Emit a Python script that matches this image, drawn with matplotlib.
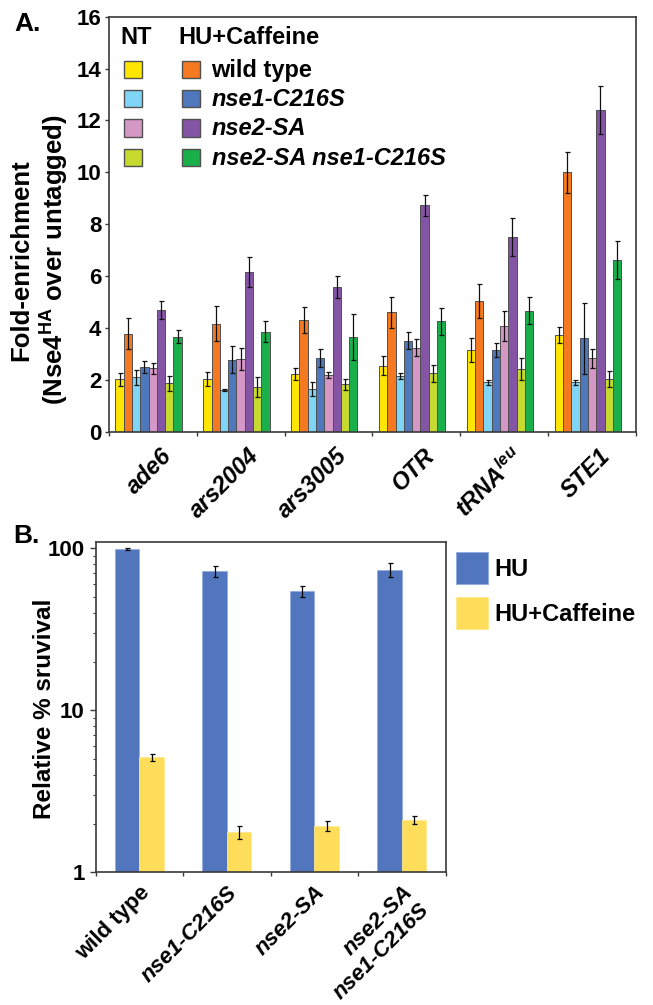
import numpy as np
import matplotlib
matplotlib.use("Agg")
import matplotlib.pyplot as plt
from matplotlib.patches import Rectangle
from matplotlib.transforms import ScaledTranslation
from matplotlib.ticker import LogLocator, NullFormatter, FixedLocator, FixedFormatter

plt.rcParams['font.family'] = ['Liberation Sans', 'DejaVu Sans']
plt.rcParams['font.weight'] = 'bold'
plt.rcParams['mathtext.fontset'] = 'custom'
plt.rcParams['mathtext.rm'] = 'Liberation Sans:bold'
plt.rcParams['mathtext.it'] = 'Liberation Sans:italic'
plt.rcParams['mathtext.bf'] = 'Liberation Sans:bold'

# ---------------- Panel A data ----------------
loci = ['ade6', 'ars2004', 'ars3005', 'OTR', r'tRNA$^{\mathit{leu}}$', 'STE1']
series_names = ['NT wild type', 'HU+Caffeine wild type',
                'NT nse1-C216S', 'HU+Caffeine nse1-C216S',
                'NT nse2-SA', 'HU+Caffeine nse2-SA',
                'NT nse2-SA nse1-C216S', 'HU+Caffeine nse2-SA nse1-C216S']
nt_wt       = [2.02, 2.02, 2.22, 2.54, 3.15, 3.73]
nt_wt_err   = [0.26, 0.27, 0.24, 0.37, 0.48, 0.31]
hu_wt       = [3.78, 4.16, 4.31, 4.60, 5.04, 10.00]
hu_wt_err   = [0.60, 0.67, 0.51, 0.60, 0.64, 0.80]
nt_nse1     = [2.10, 1.60, 1.66, 2.14, 1.90, 1.90]
nt_nse1_err = [0.29, 0.05, 0.27, 0.12, 0.10, 0.09]
hu_nse1     = [2.50, 2.78, 2.84, 3.50, 3.15, 3.60]
hu_nse1_err = [0.22, 0.52, 0.36, 0.33, 0.26, 1.38]
nt_nse2     = [2.44, 2.79, 2.18, 3.24, 4.09, 2.83]
nt_nse2_err = [0.22, 0.43, 0.11, 0.34, 0.58, 0.36]
hu_nse2     = [4.68, 6.14, 5.58, 8.73, 7.51, 12.41]
hu_nse2_err = [0.35, 0.58, 0.42, 0.40, 0.72, 0.93]
nt_dbl      = [1.87, 1.71, 1.83, 2.26, 2.41, 2.03]
nt_dbl_err  = [0.29, 0.38, 0.22, 0.33, 0.42, 0.32]
hu_dbl      = [3.67, 3.86, 3.65, 4.25, 4.67, 6.62]
hu_dbl_err  = [0.25, 0.41, 0.88, 0.53, 0.52, 0.73]

series_vals = [nt_wt, hu_wt, nt_nse1, hu_nse1, nt_nse2, hu_nse2, nt_dbl, hu_dbl]
series_errs = [nt_wt_err, hu_wt_err, nt_nse1_err, hu_nse1_err,
               nt_nse2_err, hu_nse2_err, nt_dbl_err, hu_dbl_err]
series_colors = ['#FFE600', '#F47920', '#80D4F6', '#4E77BC',
                 '#D597C5', '#8455A4', '#C6D92E', '#1BAF4B']

legend_headers = ['NT', 'HU+Caffeine']
legend_labels = ['wild type', 'nse1-C216S', 'nse2-SA', 'nse2-SA nse1-C216S']
legend_styles = ['normal', 'italic', 'italic', 'italic']

# ---------------- Panel B data ----------------
strains = ['wild type', 'nse1-C216S', 'nse2-SA', 'nse2-SA\nnse1-C216S']
strain_styles = ['normal', 'italic', 'italic', 'italic']
hu_surv      = [99.0, 72.1, 54.3, 73.8]
hu_surv_err  = [0.8, 5.5, 4.0, 7.6]
huc_surv     = [5.12, 1.77, 1.94, 2.11]
huc_surv_err = [0.25, 0.16, 0.13, 0.13]
b_names = ['HU', 'HU+Caffeine']
b_colors = ['#5176BD', '#FDDD59']

W, H = 653, 1005
fig = plt.figure(figsize=(W / 100, H / 100), dpi=100)

def fx(px):
    return px / W

def fy(py):
    return 1 - py / H

spine_col = '#3a3a3a'

# ================= Panel A =================
aL, aR, aT, aB = 108.8, 636.0, 16.7, 431.7
axA = fig.add_axes([fx(aL), fy(aB), fx(aR) - fx(aL), fy(aT) - fy(aB)])
ng = len(loci)
w = 0.0944
gx = np.arange(ng) + 0.5
for i, (vals, errs, col) in enumerate(zip(series_vals, series_errs, series_colors)):
    x = gx + (i - 4) * w
    axA.bar(x, vals, width=w, color=col, edgecolor='#505050', linewidth=0.7, zorder=2)
    axA.errorbar(x, vals, yerr=errs, fmt='none', ecolor='#111111',
                 elinewidth=0.9, capsize=1.8, capthick=0.9, zorder=3)
axA.set_xlim(0, ng)
axA.set_ylim(0, 16)
axA.set_yticks(np.arange(0, 17, 2))
axA.tick_params(axis='y', direction='out', length=3, width=1, pad=2.5,
                labelsize=16, colors=spine_col, labelcolor='black')
axA.set_xticks(gx)
axA.set_xticklabels(loci, rotation=45, ha='right', va='top',
                    rotation_mode='anchor', fontsize=17, fontstyle='italic')
axA.xaxis.set_minor_locator(FixedLocator(np.arange(0, ng + 1)))
axA.tick_params(axis='x', which='major', length=0, pad=9)
axA.tick_params(axis='x', which='minor', direction='out', length=3, width=1,
                color=spine_col)
for lbl in axA.get_xticklabels():
    lbl.set_transform(lbl.get_transform() + ScaledTranslation(7 / 100, 0, fig.dpi_scale_trans))
for s in axA.spines.values():
    s.set_color(spine_col)
    s.set_linewidth(1.2)

fig.text(fx(40), fy(260), 'Fold-enrichment\n(Nse4$^{\\mathrm{HA}}$ over untagged)',
         rotation=90, ha='center', va='center', fontsize=18.5,
         linespacing=1.2, multialignment='center')
fig.text(fx(14), fy(24), 'A.', fontsize=19, ha='left', va='center')

# legend A (drawn manually)
sq = 17.3
row_c = [69.3, 98.6, 127.9, 157.2]
fig.text(fx(120), fy(38), legend_headers[0], fontsize=17, ha='left', va='center')
fig.text(fx(178), fy(38), legend_headers[1], fontsize=17, ha='left', va='center')
for r, (lab, sty) in enumerate(zip(legend_labels, legend_styles)):
    for c, x0 in enumerate([124.3, 182.3]):
        col = series_colors[2 * r + c]
        fig.add_artist(Rectangle((fx(x0), fy(row_c[r] + sq / 2)), sq / W, sq / H,
                                 transform=fig.transFigure, facecolor=col,
                                 edgecolor='#505050', linewidth=1.0))
    fig.text(fx(211.5), fy(row_c[r] + 1), lab, fontsize=17, fontstyle=sty,
             ha='left', va='center')

# ================= Panel B =================
bL, bR, bT, bB = 95.7, 445.7, 542.3, 872.3
axB = fig.add_axes([fx(bL), fy(bB), fx(bR) - fx(bL), fy(bT) - fy(bB)])
ns = len(strains)
bw = 0.28
sx = np.arange(ns) + 0.5
for j, (vals, errs, col) in enumerate(zip([hu_surv, huc_surv], [hu_surv_err, huc_surv_err], b_colors)):
    x = sx + (j - 0.5) * bw
    axB.bar(x, vals, width=bw, color=col, edgecolor='#8FAAE0' if j == 0 else '#FFE88A',
            linewidth=0.5, zorder=2)
    axB.errorbar(x, vals, yerr=errs, fmt='none', ecolor='black',
                 elinewidth=0.9, capsize=1.8, capthick=0.9, zorder=3)
axB.set_yscale('log')
axB.set_ylim(1, 108.9)
axB.set_xlim(0, ns)
axB.yaxis.set_major_locator(FixedLocator([1, 10, 100]))
axB.yaxis.set_major_formatter(FixedFormatter(['1', '10', '100']))
axB.yaxis.set_minor_locator(LogLocator(base=10, subs=np.arange(2, 10)))
axB.yaxis.set_minor_formatter(NullFormatter())
axB.tick_params(axis='y', which='major', direction='out', length=4, width=1, pad=4,
                labelsize=16, colors=spine_col, labelcolor='black')
axB.tick_params(axis='y', which='minor', direction='out', length=2, width=0.8,
                colors=spine_col)
axB.set_xticks(sx)
axB.set_xticklabels(strains, rotation=45, ha='right', va='top',
                    rotation_mode='anchor', fontsize=16)
for lbl, sty in zip(axB.get_xticklabels(), strain_styles):
    lbl.set_fontstyle(sty)
    lbl.set_transform(lbl.get_transform() + ScaledTranslation(8 / 100, 0, fig.dpi_scale_trans))
axB.xaxis.set_minor_locator(FixedLocator(np.arange(0, ns + 1)))
axB.tick_params(axis='x', which='major', length=0, pad=7)
axB.tick_params(axis='x', which='minor', direction='out', length=3, width=1,
                color=spine_col)
for s in axB.spines.values():
    s.set_color(spine_col)
    s.set_linewidth(1.2)

fig.text(fx(45), fy(709), 'Relative % sruvival', rotation=90, ha='center',
         va='center', fontsize=17.5)
fig.text(fx(13), fy(536), 'B.', fontsize=19, ha='left', va='center')

# legend B
bsq = 32
for k, (nm, col, yc) in enumerate(zip(b_names, b_colors, [567.5, 612.8])):
    fig.add_artist(Rectangle((fx(455.7), fy(yc + bsq / 2)), bsq / W, bsq / H,
                             transform=fig.transFigure, facecolor=col,
                             edgecolor='#8FAAE0' if k == 0 else '#FFE88A', linewidth=0.6))
    fig.text(fx(494), fy(yc + 1.5), nm, fontsize=17, ha='left', va='center')

fig.savefig('out.png', dpi=100)
